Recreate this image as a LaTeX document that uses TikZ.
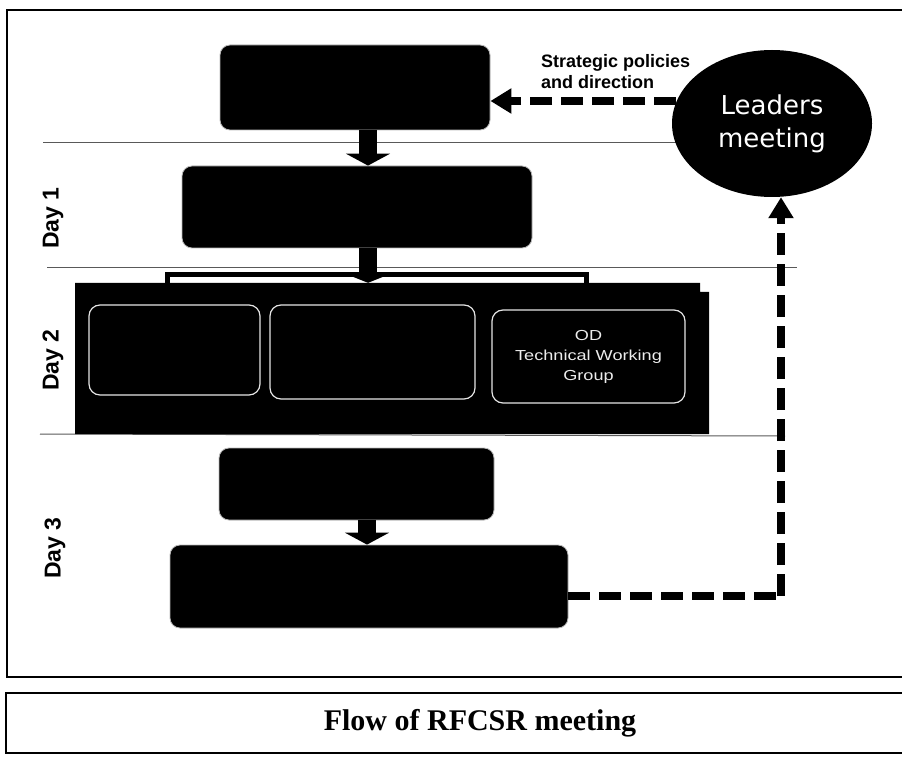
\documentclass[tikz,border=0pt]{standalone}
\usepackage{fontspec}
\setmainfont{Liberation Serif}
\setsansfont{Liberation Sans}
\newfontfamily\leadfont{DejaVu Sans}
\newfontfamily\widefont{Liberation Sans}[FakeStretch=1.25]
\usetikzlibrary{arrows.meta,shapes.geometric,calc}
\begin{document}
\begin{tikzpicture}[x=1pt,y=-1pt,
  blk/.style={draw=gray!55,line width=0.8pt,fill=black,rounded corners=10pt,inner sep=0pt},
  inbox/.style={draw=white!80!gray,line width=1.2pt,fill=black,rounded corners=11pt,inner sep=0pt,text=white!85!gray,font=\widefont\fontsize{14.5}{20}\selectfont,align=center},
  flow/.style={line width=18pt,-{Triangle[width=44pt,length=12pt]}},
  dasharrow/.style={line width=7.5pt,dash pattern=on 22pt off 9pt,-{Triangle[width=24pt,length=21pt]}},
  dashline/.style={line width=7.5pt,dash pattern=on 22pt off 9pt},
  sep/.style={black!65,line width=1pt},
  daylbl/.style={rotate=90,font=\sffamily\bfseries\fontsize{23}{26}\selectfont},
]
\useasboundingbox (0,0) rectangle (902,759);
% outer frames
\draw[line width=1.4pt] (902,10) -- (7,10) -- (7,677) -- (902,677);
\draw[line width=1.4pt] (902,693) -- (6,693) -- (6,753) -- (902,753);
\node[font=\bfseries\fontsize{30}{34}\selectfont] (cap) at (480,723) {Flow of RFCSR meeting};
% day separators
\draw[sep] (43,143) -- (676,143);
\draw[sep] (47,268) -- (797,268);
\draw[sep] (40,434) -- (785,436);
% day labels
\node[daylbl] (day1) at (53,218) {Day 1};
\node[daylbl] (day2) at (53,360) {Day 2};
\node[daylbl] (day3) at (55,548) {Day 3};
% boxes
\node[blk,minimum width=270pt,minimum height=85pt] (top) at (355,87.5) {};
\node[blk,minimum width=350pt,minimum height=82pt] (d1) at (357,207) {};
\fill (75,283) -- (700,283) -- (700,292) -- (709,292) -- (709,434) -- (75,434) -- cycle;
\node[inner sep=0pt,minimum width=634pt,minimum height=151pt] (d2) at (392,358.5) {};
\node[inbox,minimum width=171pt,minimum height=90pt] (a) at (174.5,350) {};
\node[inbox,minimum width=205pt,minimum height=94pt] (b) at (372.5,352) {};
\node[inbox,minimum width=193pt,minimum height=93pt] (c) at (588.5,356.5) {OD\\Technical Working\\Group};
\node[blk,minimum width=275pt,minimum height=72pt] (d3a) at (356.5,484) {};
\node[blk,minimum width=398pt,minimum height=83pt] (d3b) at (369,586.5) {};
% leaders
\node[ellipse,fill=black,minimum width=200pt,minimum height=147pt,inner sep=0pt,text=white,align=center,font=\leadfont\fontsize{26}{33}\selectfont] (lead) at (772,123.5) {Leaders\\meeting};
\node[anchor=north west,align=left,inner sep=0pt,font=\sffamily\bfseries\fontsize{18}{21}\selectfont] (strat) at (541,54) {Strategic policies\\and direction};
% connectors
\draw[flow] (top.south -| 368,0) -- (d1.north -| 368,0);
\draw[line width=18pt] (d1.south -| 368,0) -- (368,278);
\draw[line width=5pt] (167,285) -- (167,275) -- (586,275) -- (586,285);
\draw[line width=18pt,-{Triangle[width=30pt,length=6pt]}] (368,276) -- (d2.north -| 368,0);
\draw[flow] (d3a.south -| 367,0) -- (d3b.north -| 367,0);
\coordinate (ls) at (676,101);
\draw[dasharrow] (ls) -- (top.east |- ls);
\coordinate (corner) at (781,596);
\draw[dashline] (d3b.east |- corner) -- (corner);
\draw[dasharrow] (corner) -- (lead.south -| corner);
\end{tikzpicture}
\end{document}
